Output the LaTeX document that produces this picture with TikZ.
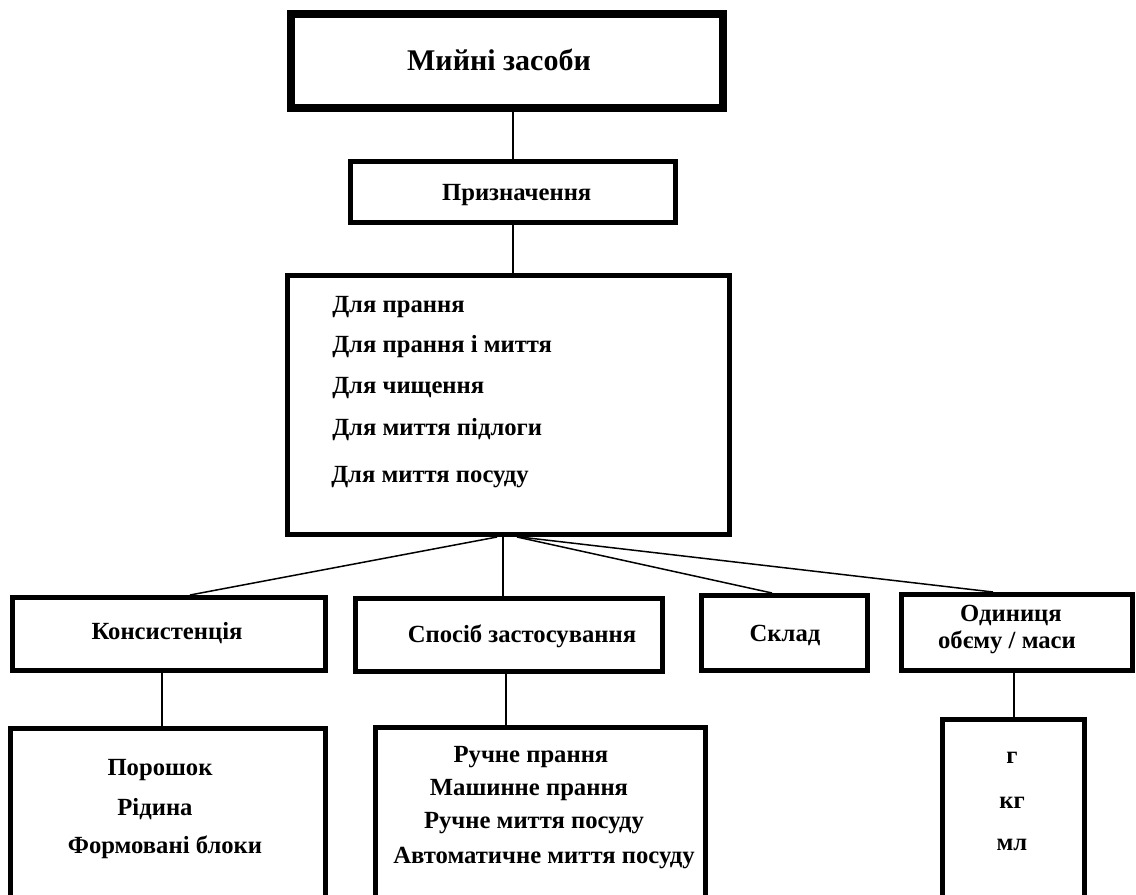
\documentclass[tikz,border=0pt]{standalone}
\usepackage{fontspec}
\setmainfont{Liberation Serif}
\usetikzlibrary{calc}
\newcommand\pxu{0.75pt}
\begin{document}
\begin{tikzpicture}[x=0.75pt,y=-0.75pt,
  frame/.style={draw, line width=5*\pxu, inner sep=0pt},
  heavyframe/.style={draw, line width=8*\pxu, inner sep=0pt},
  link/.style={line width=1.5*\pxu},
  lbl/.style={inner sep=0pt, font=\bfseries\fontsize{#1}{#1}\selectfont},
  lbl/.default=18.5
]
\useasboundingbox (0,0) rectangle (1136,894);
\clip (0,0) rectangle (1136,894);

% boxes
\node[heavyframe, minimum width=432*\pxu, minimum height=94*\pxu] (top) at (507,61) {};
\node[frame, minimum width=325*\pxu, minimum height=61*\pxu] (prz) at (513,192) {};
\node[frame, minimum width=442*\pxu, minimum height=259*\pxu] (big) at (508.5,405) {};
\node[frame, minimum width=313*\pxu, minimum height=73*\pxu] (kons) at (169,634) {};
\node[frame, minimum width=307*\pxu, minimum height=73*\pxu] (spos) at (509,635) {};
\node[frame, minimum width=166*\pxu, minimum height=75*\pxu] (sklad) at (784.5,633) {};
\node[frame, minimum width=231*\pxu, minimum height=76*\pxu] (odyn) at (1017,632.5) {};
\node[frame, minimum width=315*\pxu, minimum height=300*\pxu] (por) at (168,878.5) {};
\node[frame, minimum width=330*\pxu, minimum height=300*\pxu] (ruch) at (540.5,877.5) {};
\node[frame, minimum width=142*\pxu, minimum height=300*\pxu] (gram) at (1013.5,869.5) {};

% connectors
\draw[link] (top.south -| prz.north) -- (prz.north);
\draw[link] (prz.south) -- (prz.south |- big.north);
\draw[link] ($(big.south)+(-11.5,0)$) -- ($(kons.north)+(21,0)$);
\draw[link] ($(big.south)+(-5.5,0)$) coordinate (fv) -- (fv |- spos.north);
\draw[link] ($(big.south)+(8.5,0)$) -- ($(sklad.north)+(-12.5,0)$);
\draw[link] ($(big.south)+(11.5,0)$) -- ($(odyn.north)+(-24,0)$);
\draw[link] ($(kons.south)+(-7,0)$) coordinate (kv) -- (kv |- por.north);
\draw[link] ($(spos.south)+(-3,0)$) coordinate (sv) -- (sv |- ruch.north);
\draw[link] ($(odyn.south)+(-3,0)$) coordinate (ov) -- (ov |- gram.north);

% texts
\node[lbl=22.5] (tTop) at (499,60) {Мийні засоби};
\node[lbl] (tPrz) at (516.7,195) {Призначення};

\node[lbl, anchor=west] (b1) at (332,307) {Для прання};
\node[lbl, anchor=west] (b2) at (332,347) {Для прання і миття};
\node[lbl, anchor=west] (b3) at (332,388) {Для чищення};
\node[lbl, anchor=west] (b4) at (332,430) {Для миття підлоги};
\node[lbl, anchor=west] (b5) at (331,477) {Для миття посуду};

\node[lbl] (tKons) at (167,633) {Консистенція};
\node[lbl] (tSpos) at (522,636) {Спосіб застосування};
\node[lbl] (tSklad) at (785,635) {Склад};
\node[lbl] (tOd1) at (1011,615) {Одиниця};
\node[lbl] (tOd2) at (1007,642) {обєму / маси};

\node[lbl] (p1) at (160,770) {Порошок};
\node[lbl] (p2) at (155,809) {Рідина};
\node[lbl] (p3) at (165,847) {Формовані блоки};

\node[lbl] (r1) at (531,757) {Ручне прання};
\node[lbl] (r2) at (529,790) {Машинне прання};
\node[lbl] (r3) at (534,823) {Ручне миття посуду};
\node[lbl] (r4) at (544,858) {Автоматичне миття посуду};

\node[lbl] (g1) at (1012,758) {г};
\node[lbl] (g2) at (1012,803) {кг};
\node[lbl] (g3) at (1012,845) {мл};
\end{tikzpicture}
\end{document}
